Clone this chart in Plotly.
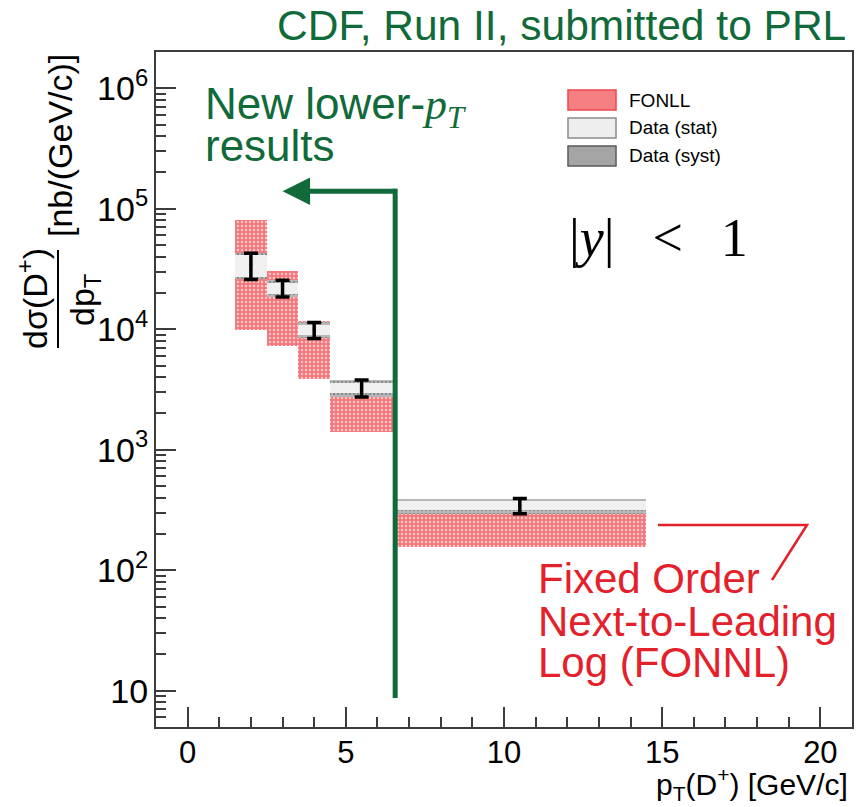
import math
import plotly.graph_objects as go

# ---- data -----------------------------------------------------------------
# pT(D+) bins [GeV/c]
bin_lo = [1.5, 2.5, 3.5, 4.5, 6.5]
bin_hi = [2.5, 3.5, 4.5, 6.5, 14.5]
# measured d(sigma)/dpT [nb/(GeV/c)] with uncertainties
xsec = [3.43e4, 2.20e4, 9.9e3, 3.27e3, 344.0]
stat_err = [0.70e4, 0.24e4, 0.93e3, 0.30e3, 28.0]
syst_err = [0.84e4, 0.35e4, 1.5e3, 0.53e3, 49.0]
# FONLL prediction band [nb/(GeV/c)]
fonll_lo = [9.8e3, 7.3e3, 3.87e3, 1.41e3, 156.0]
fonll_hi = [8.0e4, 3.07e4, 1.16e4, 3.0e3, 300.0]

legend_labels = ["FONLL", "Data (stat)", "Data (syst)"]
x_tickvals = [0, 5, 10, 15, 20]
y_tickvals = [10, 1e2, 1e3, 1e4, 1e5, 1e6]
y_ticktext = ["10", "10<sup>2</sup>", "10<sup>3</sup>", "10<sup>4</sup>",
              "10<sup>5</sup>", "10<sup>6</sup>"]

# ---- styling ----------------------------------------------------------------
GREEN = "rgb(16,106,58)"
RED = "rgb(228,32,42)"
AXIS = "rgb(60,60,60)"
SANS = "Liberation Sans, Arial, Helvetica, sans-serif"
SERIF = "Liberation Serif, Times New Roman, serif"

W, H = 859, 807
L, R, T, B = 156, 7, 52, 80
PW, PH = W - L - R, H - T - B
XR = (-1.0, 21.0)
YR = (math.log10(5.0), math.log10(2.0e6))


def xp(v):
    """x data value -> paper fraction"""
    return (v - XR[0]) / (XR[1] - XR[0])


def yp(v):
    """y data value (log axis) -> paper fraction"""
    return (math.log10(v) - YR[0]) / (YR[1] - YR[0])


def px(xpix):
    return (xpix - L) / PW


def py(ypix):
    return (T + PH - ypix) / PH


centers = [(a + b) / 2 for a, b in zip(bin_lo, bin_hi)]
widths = [b - a for a, b in zip(bin_lo, bin_hi)]

fig = go.Figure()

# FONLL band
fig.add_trace(go.Bar(
    x=centers, width=widths, base=fonll_lo,
    y=[h - l for h, l in zip(fonll_hi, fonll_lo)],
    marker=dict(color="rgb(244,128,132)", line=dict(width=0),
                pattern=dict(shape=".", fgcolor="rgb(255,200,200)",
                             bgcolor="rgb(243,118,123)", size=4,
                             solidity=0.3)),
    showlegend=False, hoverinfo="skip"))

# systematic boxes
fig.add_trace(go.Bar(
    x=centers, width=widths,
    base=[v - e for v, e in zip(xsec, syst_err)],
    y=[2 * e for e in syst_err],
    marker=dict(color="rgb(172,172,172)", line=dict(width=0),
                pattern=dict(shape=".", fgcolor="rgb(140,140,140)",
                             bgcolor="rgb(185,185,185)", size=4,
                             solidity=0.3)),
    showlegend=False, hoverinfo="skip"))

# statistical boxes
fig.add_trace(go.Bar(
    x=centers, width=widths,
    base=[v - e for v, e in zip(xsec, stat_err)],
    y=[2 * e for e in stat_err],
    marker=dict(color="rgb(240,240,240)", line=dict(width=0)),
    showlegend=False, hoverinfo="skip"))

# data points with error bars
fig.add_trace(go.Scatter(
    x=centers, y=xsec, mode="markers",
    marker=dict(size=3, color="black"),
    error_y=dict(type="data", array=syst_err, color="black",
                 thickness=3.5, width=7),
    showlegend=False, hoverinfo="skip"))

shapes = []
annotations = []

# green marker: vertical line at the start of the high-pT bin and arrow
g_x, g_ybot, g_ytop, g_tip = 6.56, 8.7, 1.4e5, 3.0
shapes.append(dict(type="line", xref="paper", yref="paper",
                   x0=xp(g_x), x1=xp(g_x), y0=yp(g_ybot),
                   y1=yp(g_ytop) + 2.5 / PH,
                   line=dict(color=GREEN, width=5)))
annotations.append(dict(
    xref="paper", yref="paper", x=xp(g_tip), y=yp(g_ytop), text="",
    showarrow=True, arrowhead=2, arrowsize=1.1, arrowwidth=5,
    arrowcolor=GREEN, ax=(xp(g_x) - xp(g_tip)) * PW + 2.5, ay=0))

annotations.append(dict(
    xref="paper", yref="paper", x=px(203), y=py(137),
    xanchor="left", yanchor="bottom", showarrow=False,
    text=("New lower-<span style=\"font-family:" + SERIF + "\">"
          "<i>p</i><sub><i>T</i></sub></span>"),
    font=dict(family=SANS, size=44, color=GREEN)))
annotations.append(dict(
    xref="paper", yref="paper", x=px(203), y=py(172),
    xanchor="left", yanchor="bottom", showarrow=False,
    text="results", font=dict(family=SANS, size=44, color=GREEN)))

# title
annotations.append(dict(
    xref="paper", yref="paper", x=px(848), y=py(51),
    xanchor="right", yanchor="bottom", showarrow=False,
    text="CDF, Run II, submitted to PRL",
    font=dict(family=SANS, size=42.5, color=GREEN)))

# rapidity range
annotations.append(dict(
    xref="paper", yref="paper", x=px(658), y=py(238),
    xanchor="center", yanchor="middle", showarrow=False,
    text="|<i>y</i>|\u2002\u2009<\u2002\u20091",
    font=dict(family=SERIF, size=54, color="black")))

# FONLL description and pointer
for txt, base in [("Fixed Order", 604), ("Next-to-Leading", 647),
                  ("Log (FONNL)", 688)]:
    annotations.append(dict(
        xref="paper", yref="paper", x=px(536), y=py(base),
        xanchor="left", yanchor="bottom", showarrow=False, text=txt,
        font=dict(family=SANS, size=42, color=RED)))
shapes.append(dict(
    type="path", xref="paper", yref="paper",
    path="M {:.5f} {:.5f} L {:.5f} {:.5f} L {:.5f} {:.5f}".format(
        px(658), py(525), px(807), py(525), px(772), py(580)),
    line=dict(color=RED, width=2.5)))

# legend
leg_fill = ["rgb(244,128,132)", "rgb(238,238,238)", "rgb(165,165,165)"]
leg_line = ["rgb(235,70,75)", "rgb(140,140,140)", "rgb(90,90,90)"]
leg_rows = [100, 128, 156]
for lab, fc, lc, yc in zip(legend_labels, leg_fill, leg_line, leg_rows):
    shapes.append(dict(type="rect", xref="paper", yref="paper",
                       x0=px(568), x1=px(616), y0=py(yc + 10), y1=py(yc - 10),
                       fillcolor=fc, line=dict(color=lc, width=1.5)))
    annotations.append(dict(
        xref="paper", yref="paper", x=px(627), y=py(yc),
        xanchor="left", yanchor="middle", showarrow=False, text=lab,
        font=dict(family=SANS, size=19, color="black")))

# y-axis title as a fraction
annotations.append(dict(
    xref="paper", yref="paper", x=px(32), y=py(299), textangle=-90,
    xanchor="center", yanchor="middle", showarrow=False,
    text="d\u03c3(D<sup>+</sup>)", font=dict(family=SANS, size=34, color="black")))
annotations.append(dict(
    xref="paper", yref="paper", x=px(84), y=py(300), textangle=-90,
    xanchor="center", yanchor="middle", showarrow=False,
    text="dp<sub>T</sub>", font=dict(family=SANS, size=34, color="black")))
shapes.append(dict(type="line", xref="paper", yref="paper",
                   x0=px(58), x1=px(58), y0=py(250), y1=py(348),
                   line=dict(color="black", width=2)))
annotations.append(dict(
    xref="paper", yref="paper", x=px(60), y=py(146), textangle=-90,
    xanchor="center", yanchor="middle", showarrow=False,
    text="[nb/(GeV/c)]", font=dict(family=SANS, size=34, color="black")))

# x-axis title
annotations.append(dict(
    xref="paper", yref="paper", x=px(850), y=py(807),
    xanchor="right", yanchor="bottom", showarrow=False,
    text="p<sub>T</sub>(D<sup>+</sup>) [GeV/c]",
    font=dict(family=SANS, size=30, color="black")))

y_minor = [m * 10 ** e for e in range(0, 7) for m in range(2, 10)
           if 5 <= m * 10 ** e <= 2e6]

fig.update_layout(
    width=W, height=H, template="none",
    margin=dict(l=L, r=R, t=T, b=B, autoexpand=False),
    paper_bgcolor="white", plot_bgcolor="white",
    barmode="overlay", bargap=0,
    shapes=shapes, annotations=annotations,
    xaxis=dict(
        range=list(XR), showgrid=False, zeroline=False,
        showline=True, mirror=True, linecolor=AXIS, linewidth=2,
        tickmode="array", tickvals=x_tickvals,
        ticks="inside", ticklen=20, tickwidth=2, tickcolor=AXIS,
        ticklabelstandoff=-3,
        tickfont=dict(family=SANS, size=31, color="black"),
        minor=dict(dtick=1, tick0=0, ticks="inside", ticklen=10,
                   tickwidth=2, tickcolor=AXIS, showgrid=False)),
    yaxis=dict(
        type="log", range=list(YR), showgrid=False, zeroline=False,
        showline=True, mirror=True, linecolor=AXIS, linewidth=2,
        tickmode="array", tickvals=y_tickvals, ticktext=y_ticktext,
        ticks="inside", ticklen=20, tickwidth=2, tickcolor=AXIS,
        ticklabelstandoff=-1,
        tickfont=dict(family=SANS, size=34, color="black"),
        minor=dict(tickmode="array", tickvals=y_minor, ticks="inside",
                   ticklen=10, tickwidth=2, tickcolor=AXIS, showgrid=False)),
)

fig.write_html("out.html")
